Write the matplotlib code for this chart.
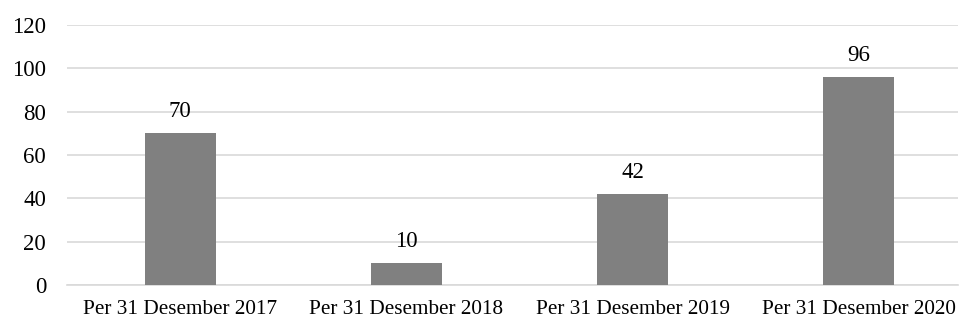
import matplotlib
matplotlib.use("Agg")
import matplotlib.pyplot as plt

categories = ["Per 31 Desember 2017", "Per 31 Desember 2018", "Per 31 Desember 2019", "Per 31 Desember 2020"]
values = [70, 10, 42, 96]
yticks = [0, 20, 40, 60, 80, 100, 120]

plt.rcParams['font.family'] = ['Liberation Serif', 'DejaVu Serif']

fig = plt.figure(figsize=(9.6, 3.21), dpi=100)
ax = fig.add_axes([67/960, 1-285/321, (958-67)/960, (285-25)/321])

x = list(range(len(categories)))
bars = ax.bar(x, values, width=0.314, color="#808080", zorder=3)
for xi, v in zip(x, values):
    ax.annotate(str(v), (xi, v), xytext=(0, 8), textcoords="offset points",
                ha="center", va="bottom", fontsize=16.5, color="#000000")

ax.set_ylim(0, 120)
ax.set_xlim(-0.5, 3.5 - 14/226.3)
ax.set_yticks(yticks)
ax.set_xticks(x)
ax.set_xticklabels(categories, fontsize=15.3)
ax.yaxis.grid(True, color="#d9d9d9", linewidth=1.2, zorder=0)
ax.set_axisbelow(True)
for s in ["top", "right", "left"]:
    ax.spines[s].set_visible(False)
ax.spines["bottom"].set_color("#d9d9d9")
ax.spines["bottom"].set_linewidth(1.2)
ax.tick_params(axis="both", length=0, colors="#000000")
ax.tick_params(axis="y", pad=15, labelsize=16.5)
ax.tick_params(axis="x", pad=11)

fig.savefig("out.png", dpi=100)
